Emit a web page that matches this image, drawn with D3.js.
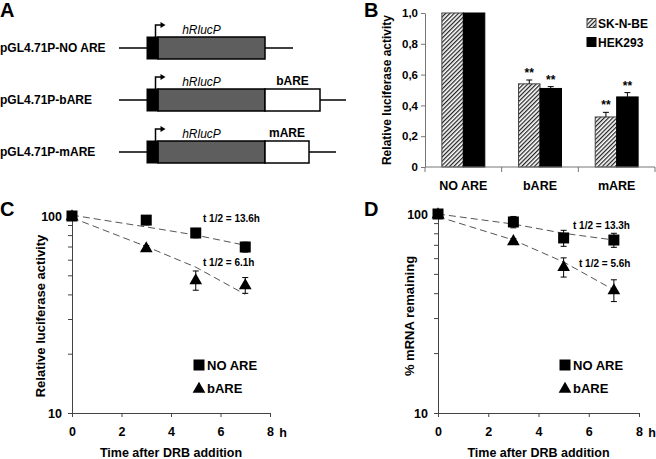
<!DOCTYPE html>
<html><head><meta charset="utf-8">
<script src="https://cdn.jsdelivr.net/npm/d3@7"></script>
<style>
body{margin:0;background:#fff;}
svg{display:block;font-family:"Liberation Sans",Arial,sans-serif;}
</style></head><body>
<svg id="fig" width="656" height="459"></svg>
<script>
// ---------- Panel A : construct schematic ----------
const constructNames = ["pGL4.71P-NO ARE","pGL4.71P-bARE","pGL4.71P-mARE"];
const geneLabel = "hRlucP";
const areNames = ["","bARE","mARE"];
const leftFlank = [28,28,28];
const promoterLen = [11,11,11];
const geneLen = [107,107,107];
const areLen = [0,55,44];
const rightFlank = [28,26,27];

// ---------- Panel B : bar chart ----------
const cellLines = ["SK-N-BE","HEK293"];
const barCats = ["NO ARE","bARE","mARE"];
const skValues = [1.0,0.54,0.325];
const skErrors = [0,0.025,0.03];
const hekValues = [1.0,0.51,0.455];
const hekErrors = [0,0.012,0.028];
const sigMarks = ["","**","**"];
const bTicks = [0,0.2,0.4,0.6,0.8,1.0];

// ---------- Panels C / D : decay curves ----------
const timePoints = [0,3,5,7];
const timeTicks = [0,2,4,6,8];
const logTicks = [10,20,30,40,50,60,70,80,90,100];
const seriesNames = ["NO ARE","bARE"];

const cNoAre = [100,95.3,82,69.6];
const cNoAreErr = [0,5,4.5,4];
const cBare = [100,68.8,47.3,44.6];
const cBareErr = [0,2,5.3,4.1];
const cNoAreFit = [101,88,80,71];
const cBareFit = [98,70,55,40];
const cHalfLives = ["t 1/2 = 13.6h","t 1/2 = 6.1h"];

const dNoAre = [100,91.2,75.8,74.0];
const dNoAreErr = [0,6,7,6];
const dBare = [100,73.2,54.2,41.5];
const dBareErr = [0,2,6,5.2];
const dNoAreFit = [100,89,80,74];
const dBareFit = [97,74,57.4,41.5];
const dHalfLives = ["t 1/2 = 13.3h","t 1/2 = 5.6h"];

const svg = d3.select("#fig");
const defs = svg.append("defs");
const pat = defs.append("pattern").attr("id","hatch").attr("patternUnits","userSpaceOnUse")
  .attr("width",3).attr("height",3).attr("patternTransform","rotate(45)");
pat.append("rect").attr("width",3).attr("height",3).attr("fill","#fff");
pat.append("line").attr("x1",0.6).attr("y1",0).attr("x2",0.6).attr("y2",3).attr("stroke","#222").attr("stroke-width",1.3);

function panelLetter(t,x,y){
  svg.append("text").attr("x",x).attr("y",y).attr("font-size",20).attr("font-weight","bold").text(t);
}
panelLetter("A",0,17);
panelLetter("B",364,17);
panelLetter("C",0,216);
panelLetter("D",364,216);

// ---------- A ----------
(function(){
  const xA = d3.scaleLinear().domain([0,226]).range([119,345]);
  const yA = d3.scalePoint().domain(constructNames).range([48,152]);
  const h = 11;
  constructNames.forEach((name,i)=>{
    const y = yA(name);
    const s1 = leftFlank[i], s2 = s1+promoterLen[i], s3 = s2+geneLen[i], s4 = s3+areLen[i], s5 = s4+rightFlank[i];
    const g = svg.append("g");
    g.append("text").attr("x",0).attr("y",y+4).attr("font-size",12).attr("font-weight","bold").text(name);
    g.append("line").attr("x1",xA(0)).attr("x2",xA(s1)).attr("y1",y).attr("y2",y).attr("stroke","#000").attr("stroke-width",1.5);
    g.append("line").attr("x1",xA(s4)).attr("x2",xA(s5)).attr("y1",y).attr("y2",y).attr("stroke","#000").attr("stroke-width",1.5);
    g.append("rect").attr("x",xA(s2)).attr("y",y-h).attr("width",xA(s3)-xA(s2)).attr("height",2*h)
      .attr("fill","#5e5e5e").attr("stroke","#000").attr("stroke-width",1.5);
    if(areLen[i]>0){
      g.append("rect").attr("x",xA(s3)).attr("y",y-h).attr("width",xA(s4)-xA(s3)).attr("height",2*h)
        .attr("fill","#fff").attr("stroke","#000").attr("stroke-width",1.5);
      g.append("text").attr("x",(xA(s3)+xA(s4))/2).attr("y",y-15).attr("text-anchor","middle")
        .attr("font-size",12).attr("font-weight","bold").text(areNames[i]);
    }
    g.append("rect").attr("x",xA(s1)).attr("y",y-h).attr("width",xA(s2)-xA(s1)).attr("height",2*h)
      .attr("fill","#000").attr("stroke","#000").attr("stroke-width",1);
    const ax = xA(s1+8.5);
    g.append("path").attr("d",`M${ax},${y-h} V${y-h-12} H${ax+6}`).attr("fill","none").attr("stroke","#000").attr("stroke-width",1.5);
    g.append("path").attr("d",`M${ax+5},${y-h-15} L${ax+10},${y-h-12} L${ax+5},${y-h-9} Z`).attr("fill","#000");
    g.append("text").attr("x",xA(s2+43.5)).attr("y",y-14).attr("text-anchor","middle")
      .attr("font-size",12).attr("font-style","italic").text(geneLabel);
  });
})();

// ---------- B ----------
(function(){
  const xB = d3.scaleBand().domain(barCats).range([425,655]).paddingInner(0.44).paddingOuter(0.22);
  const xSub = d3.scaleBand().domain(cellLines).range([0,xB.bandwidth()]);
  const yB = d3.scaleLinear().domain([0,1]).range([167,13]);
  const g = svg.append("g");
  const vals = [skValues,hekValues], errs=[skErrors,hekErrors];
  const fills = ["url(#hatch)","#000"];
  cellLines.forEach((cl,si)=>{
    barCats.forEach((c,ci)=>{
      const x0 = xB(c)+xSub(cl), w = xSub.bandwidth();
      const v = vals[si][ci], e = errs[si][ci];
      g.append("rect").attr("x",x0).attr("y",yB(v)).attr("width",w).attr("height",yB(0)-yB(v))
        .attr("fill",fills[si]).attr("stroke",si===0?"#444":"#000").attr("stroke-width",1);
      if(e>0){
        const cx = x0+w/2;
        g.append("line").attr("x1",cx).attr("x2",cx).attr("y1",yB(v)).attr("y2",yB(v+e)).attr("stroke","#000");
        g.append("line").attr("x1",cx-3).attr("x2",cx+3).attr("y1",yB(v+e)).attr("y2",yB(v+e)).attr("stroke","#000");
      }
      if(sigMarks[ci]){
        g.append("text").attr("x",x0+w/2).attr("y",yB(v+e)-3).attr("text-anchor","middle")
          .attr("font-size",12).attr("font-weight","bold").text(sigMarks[ci]);
      }
    });
  });
  const ya = g.append("g").attr("transform","translate(425,0)")
    .call(d3.axisLeft(yB).tickValues(bTicks).tickSize(4).tickSizeOuter(0)
      .tickFormat(d=> d===0 ? "0" : d3.format(".1f")(d).replace(".",",")));
  ya.selectAll("path,line").attr("stroke","#777");
  ya.selectAll("text").attr("font-size",11.5).attr("font-weight","bold").attr("fill","#000").attr("font-family","Liberation Sans, Arial, sans-serif");
  const bounds = barCats.map(c=>xB(c)-xB.paddingOuter()*xB.step()).concat([xB.range()[1]]);
  g.append("line").attr("x1",425).attr("x2",xB.range()[1]).attr("y1",yB(0)).attr("y2",yB(0)).attr("stroke","#777");
  bounds.forEach(b=>g.append("line").attr("x1",b).attr("x2",b).attr("y1",yB(0)).attr("y2",yB(0)+5).attr("stroke","#777"));
  barCats.forEach(c=>g.append("text").attr("x",xB(c)+xB.bandwidth()/2).attr("y",190).attr("text-anchor","middle")
    .attr("font-size",12.5).attr("font-weight","bold").text(c));
  g.append("text").attr("transform",`translate(391,${(yB(0)+yB(1))/2}) rotate(-90)`).attr("text-anchor","middle")
    .attr("font-size",12).attr("font-weight","bold").text("Relative luciferase activity");
  cellLines.forEach((cl,i)=>{
    const ly = 23+i*19;
    g.append("rect").attr("x",587).attr("y",ly-4.5).attr("width",9).attr("height",9)
      .attr("fill",fills[i]).attr("stroke",i===0?"#444":"#000");
    g.append("text").attr("x",598).attr("y",ly+4.5).attr("font-size",12).attr("font-weight","bold").text(cl);
  });
})();

// ---------- C / D ----------
function decayPanel(o){
  const x = d3.scaleLinear().domain([0,8]).range([o.x0,o.x1]);
  const y = d3.scaleLog().domain([10,100]).range([413,o.yTop]);
  const g = svg.append("g");
  const xa = g.append("g").attr("transform","translate(0,413)")
    .call(d3.axisBottom(x).tickValues(timeTicks).tickSize(4).tickSizeOuter(0).tickPadding(10).tickFormat(d3.format("d")));
  const ya = g.append("g").attr("transform",`translate(${o.x0},0)`)
    .call(d3.axisLeft(y).tickValues(logTicks).tickSize(4).tickSizeOuter(0).tickPadding(6)
      .tickFormat(d=> (d===10||d===100) ? d : ""));
  [xa,ya].forEach(a=>{
    a.selectAll("path,line").attr("stroke","#444");
    a.selectAll("text").attr("font-size",12.5).attr("font-weight","bold").attr("fill","#000").attr("font-family","Liberation Sans, Arial, sans-serif");
  });
  g.append("text").attr("x",x(8)+13).attr("y",437).attr("text-anchor","middle")
    .attr("font-size",12.5).attr("font-weight","bold").text("h");
  g.append("text").attr("x",(x(0)+x(8))/2).attr("y",457).attr("text-anchor","middle")
    .attr("font-size",12.5).attr("font-weight","bold").text("Time after DRB addition");
  g.append("text").attr("transform",`translate(${o.titleX},316) rotate(-90)`).attr("text-anchor","middle")
    .attr("dy","0.35em").attr("font-size",13).attr("font-weight","bold").text(o.yTitle);

  const line = d3.line().x((d,i)=>x(timePoints[i])).y(d=>y(d));
  [o.fitB,o.fitN].forEach(f=>{
    g.append("path").attr("d",line(f)).attr("fill","none").attr("stroke","#555").attr("stroke-width",1).attr("stroke-dasharray","7,4");
  });
  const tri = d3.symbol().type(d3.symbolTriangle).size(70);
  const sq = d3.symbol().type(d3.symbolSquare).size(121);
  const series = [{v:o.bare,e:o.bareErr,sym:tri,off:0.5},{v:o.noAre,e:o.noAreErr,sym:sq,off:0}];
  series.forEach(s=>{
    s.v.forEach((v,i)=>{
      const cx = x(timePoints[i]);
      const e = s.e[i];
      if(e>0){
        g.append("line").attr("x1",cx).attr("x2",cx).attr("y1",y(v+e)).attr("y2",y(v-e)).attr("stroke","#000");
        [v+e,v-e].forEach(w=>g.append("line").attr("x1",cx-3).attr("x2",cx+3).attr("y1",y(w)).attr("y2",y(w)).attr("stroke","#000"));
      }
      g.append("path").attr("d",s.sym()).attr("transform",`translate(${cx},${y(v)+s.off})`).attr("fill","#000");
    });
  });
  o.halfPos.forEach((p,i)=>{
    g.append("text").attr("x",p[0]).attr("y",p[1]).attr("font-size",10).attr("font-weight","bold").text(o.half[i]);
  });
  const syms=[sq,tri];
  seriesNames.forEach((n,i)=>{
    const ly = 365+i*23;
    g.append("path").attr("d",syms[i]()).attr("transform",`translate(${o.legX},${ly+(i?1:0)})`).attr("fill","#000");
    g.append("text").attr("x",o.legX+8).attr("y",ly+5).attr("font-size",13).attr("font-weight","bold").text(n);
  });
}

decayPanel({x0:72,x1:270,yTop:216,titleX:40,yTitle:"Relative luciferase activity",
  noAre:cNoAre,noAreErr:cNoAreErr,bare:cBare,bareErr:cBareErr,fitN:cNoAreFit,fitB:cBareFit,
  half:cHalfLives,halfPos:[[203,222],[203,266]],legX:199});
decayPanel({x0:438,x1:639,yTop:214,titleX:409,yTitle:"% mRNA remaining",
  noAre:dNoAre,noAreErr:dNoAreErr,bare:dBare,bareErr:dBareErr,fitN:dNoAreFit,fitB:dBareFit,
  half:dHalfLives,halfPos:[[573,229],[579,267]],legX:565});
</script>
</body></html>
